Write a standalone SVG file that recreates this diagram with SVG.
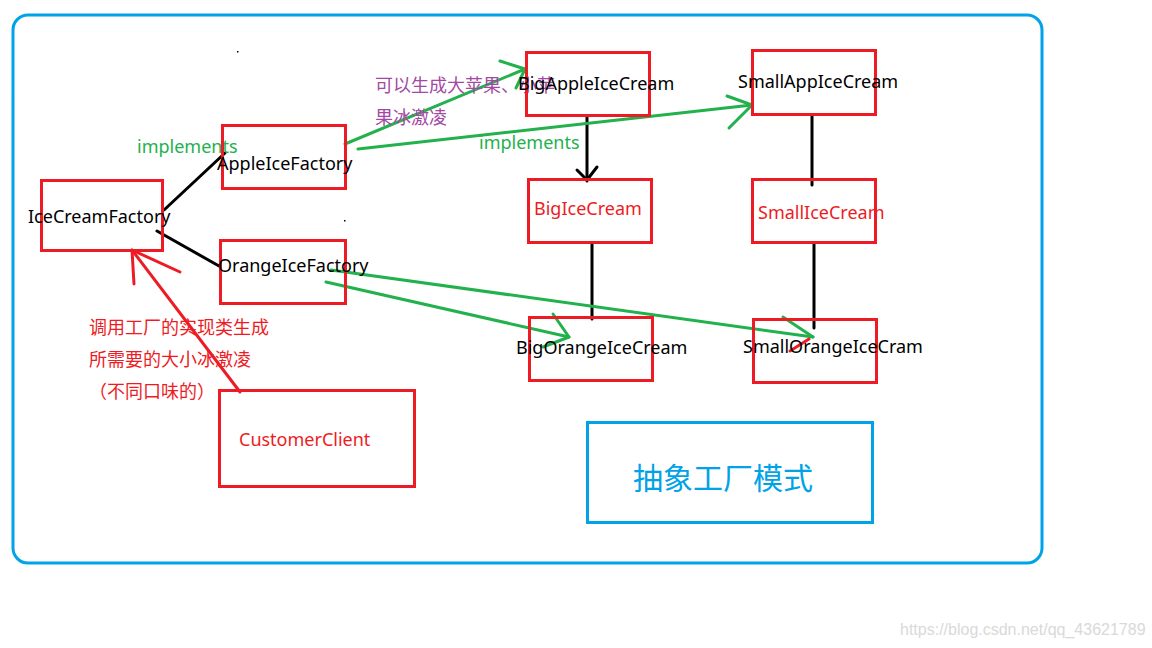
<svg xmlns="http://www.w3.org/2000/svg" width="1152" height="648" viewBox="0 0 1152 648">
<style>
.box{fill:none;stroke:#ed1c24;stroke-width:3}
.t{font-family:"Noto Sans","Noto Sans CJK SC",sans-serif;font-size:18px}
.blk{fill:#000}
.red{fill:#ed1c24}
.grn{fill:#22b14c}
.pur{fill:#a349a4}
.bl{stroke:#000;stroke-width:3;fill:none;stroke-linecap:round}
.gl{stroke:#22b14c;stroke-width:3;fill:none;stroke-linecap:round;stroke-linejoin:round}
.rl{stroke:#ed1c24;stroke-width:3;fill:none;stroke-linecap:round;stroke-linejoin:round}
</style>
<rect width="1152" height="648" fill="#fff"/>
<rect x="13" y="15" width="1029" height="548" rx="15" ry="15" fill="none" stroke="#00a2e8" stroke-width="3"/>
<rect x="237" y="51" width="1.5" height="1.5" fill="#000"/>
<rect x="344" y="220" width="1.5" height="1.5" fill="#000"/>

<g id="connectors">
<line class="bl" x1="164" y1="210" x2="225" y2="153"/>
<line class="bl" x1="157" y1="231" x2="219" y2="266"/>
<line class="bl" x1="587" y1="116" x2="587" y2="181"/>
<polyline class="bl" points="577,170 587,180 597,167"/>
<line class="bl" x1="592" y1="243" x2="592" y2="319"/>
<line class="bl" x1="812" y1="115" x2="812" y2="185"/>
<line class="bl" x1="814" y1="243" x2="814" y2="328"/>
<line class="gl" x1="345" y1="144" x2="525" y2="69"/>
<polyline class="gl" points="500,61 525,69 516,88"/>
<line class="gl" x1="358" y1="149" x2="752" y2="105"/>
<polyline class="gl" points="727,96 752,105 729,128"/>
<line class="gl" x1="331" y1="270" x2="813" y2="337"/>
<line class="gl" x1="783" y1="317" x2="813" y2="337"/>
<line class="rl" x1="790" y1="351" x2="809" y2="339"/>
<line class="gl" x1="326" y1="282" x2="569" y2="337"/>
<polyline class="gl" points="553,314 569,337 543,347"/>
<line class="rl" x1="240" y1="392" x2="132" y2="250"/>
<polyline class="rl" points="134,284 132,250 180,272"/>
</g>

<g id="label-purple">
<text class="t pur" x="375" y="92">可以生成大苹果、小苹</text>
<text class="t pur" x="375" y="124">果冰激凌</text>
</g>
<text class="t grn" x="137" y="153">implements</text>
<text class="t grn" x="479" y="149">implements</text>
<g id="label-red">
<text class="t red" x="89" y="334">调用工厂的实现类生成</text>
<text class="t red" x="89" y="366">所需要的大小冰激凌</text>
<text class="t red" x="89" y="398">（不同口味的）</text>
</g>

<g id="IceCreamFactory">
<rect class="box" x="41.5" y="180.5" width="121" height="70"/>
<text class="t blk" x="28" y="223">IceCreamFactory</text>
</g>
<g id="AppleIceFactory">
<rect class="box" x="222.5" y="125.5" width="123" height="63"/>
<text class="t blk" x="217" y="170">AppleIceFactory</text>
</g>
<g id="OrangeIceFactory">
<rect class="box" x="220.5" y="240.5" width="125" height="63"/>
<text class="t blk" x="218" y="272">OrangeIceFactory</text>
</g>
<g id="BigAppleIceCream">
<rect class="box" x="526.5" y="52.5" width="123" height="63"/>
<text class="t blk" x="518" y="90">BigAppleIceCream</text>
</g>
<g id="SmallAppIceCream">
<rect class="box" x="752.5" y="50.5" width="123" height="64"/>
<text class="t blk" x="738" y="88">SmallAppIceCream</text>
</g>
<g id="BigIceCream">
<rect class="box" x="528.5" y="179.5" width="123" height="63"/>
<text class="t red" x="534" y="215">BigIceCream</text>
</g>
<g id="SmallIceCream">
<rect class="box" x="752.5" y="179.5" width="123" height="63"/>
<text class="t red" x="758" y="219">SmallIceCream</text>
</g>
<g id="BigOrangeIceCream">
<rect class="box" x="529.5" y="317.5" width="123" height="63"/>
<text class="t blk" x="516" y="354">BigOrangeIceCream</text>
</g>
<g id="SmallOrangeIceCram">
<rect class="box" x="753.5" y="319.5" width="123" height="63"/>
<text class="t blk" x="743" y="353">SmallOrangeIceCram</text>
</g>
<g id="CustomerClient">
<rect class="box" x="219.5" y="390.5" width="195" height="96"/>
<text class="t red" x="239" y="446">CustomerClient</text>
</g>
<g id="title">
<rect x="587.5" y="422.5" width="285" height="100" fill="none" stroke="#00a2e8" stroke-width="3"/>
<text x="633" y="489" font-family="'Noto Sans CJK SC',sans-serif" font-size="30" fill="#00a2e8">抽象工厂模式</text>
</g>
<text x="900" y="635" font-family="'Liberation Sans',Arial,sans-serif" font-size="16" fill="#d9d9d9">https://blog.csdn.net/qq_43621789</text>
</svg>
